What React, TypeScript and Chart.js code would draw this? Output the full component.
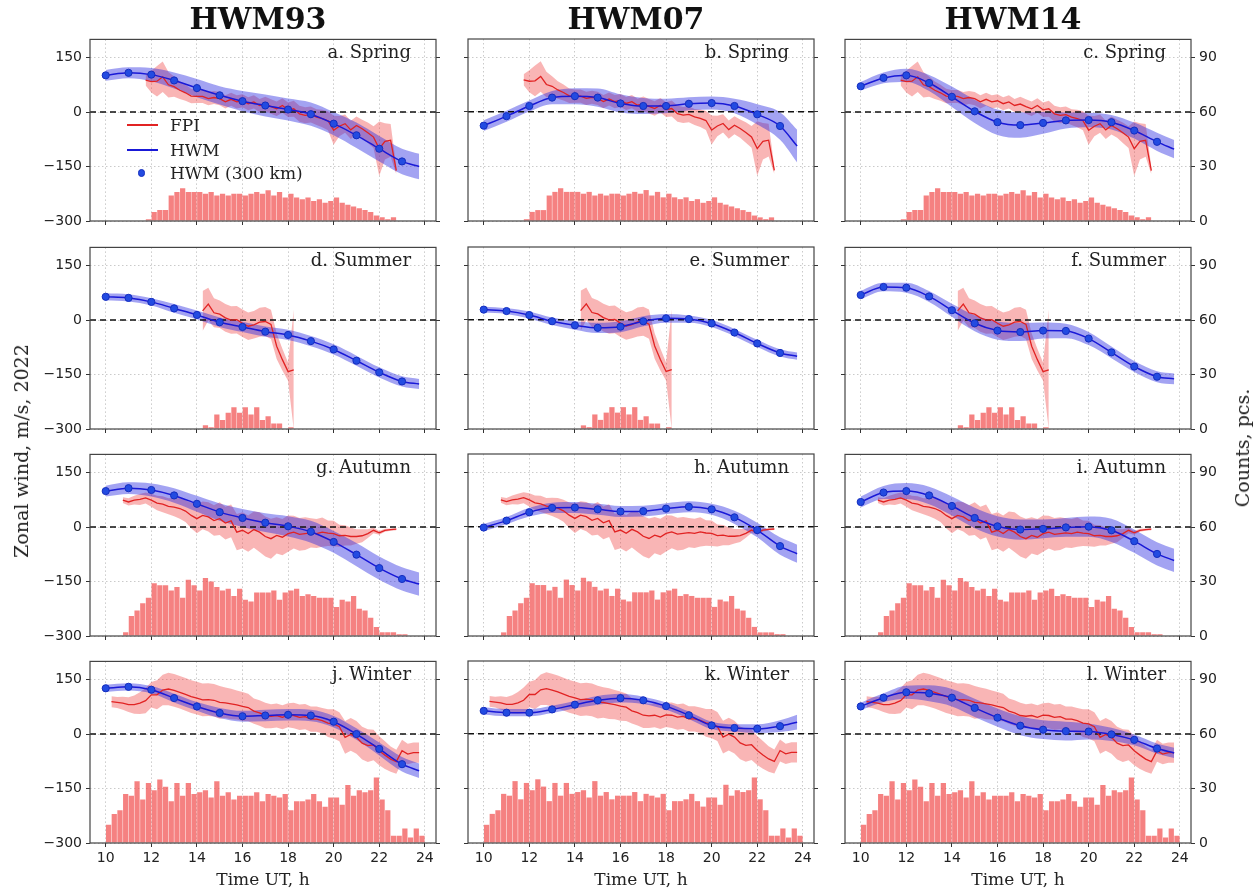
import React, { useEffect, useRef } from 'react';
import { Chart, registerables } from 'chart.js';

Chart.register(...registerables);

// ---------------- data ----------------
const MODELS = ['HWM93', 'HWM07', 'HWM14'];
const SEASONS = ['Spring', 'Summer', 'Autumn', 'Winter'];
const LETTERS = ['a', 'b', 'c', 'd', 'e', 'f', 'g', 'h', 'i', 'j', 'k', 'l'];
const X_TICKS = [10, 12, 14, 16, 18, 20, 22, 24];
const WIND_TICKS = [-300, -150, 0, 150];
const COUNT_TICKS = [0, 30, 60, 90];
const STEP = 0.25; // hours between FPI samples / histogram bins
const HWM_HOURS = [10, 11, 12, 13, 14, 15, 16, 17, 18, 19, 20, 21, 22, 23, 23.75];
const DOT_COUNT = 14; // HWM (300 km) dots at 10..23 h

// FPI zonal wind, 15-min steps (shared by all models of a season)
const fpiStart = [11.75, 14.25, 10.75, 10.25];
const fpiSpring = [88, 84, 85, 97, 75, 70, 60, 53, 44, 43, 43, 37, 40, 37, 28, 35, 28, 31, 23, 28, 18, 22, 15, 9, 18, 6, 9, -5, -9, -7, -14, -18, -24, -50, -39, -32, -49, -37, -46, -57, -69, -101, -81, -78, -161];
const fpiSpringSd = [15, 30, 42, 42, 35, 28, 24, 22, 20, 18, 18, 18, 18, 18, 18, 18, 18, 18, 18, 18, 18, 20, 20, 20, 20, 20, 22, 22, 22, 22, 22, 24, 26, 40, 28, 25, 25, 25, 25, 28, 30, 75, 50, 45, 10];
const fpiSummer = [25, 44, 20, 16, 6, 0, 1, -9, -17, -13, -6, -4, -12, -72, -109, -142, -137];
const fpiSummerSd = [55, 45, 40, 38, 38, 38, 38, 38, 38, 38, 40, 40, 40, 35, 30, 25, 165];
const fpiAutumn = [74, 69, 74, 76, 80, 74, 66, 63, 57, 55, 51, 44, 32, 23, 32, 28, 18, 23, 11, 17, -14, -9, -18, -7, -14, -26, -32, -23, -28, -18, -14, -20, -18, -16, -18, -14, -17, -18, -24, -23, -26, -26, -24, -18, -9, -16, -9, -7, -6];
const fpiAutumnSd = [8, 10, 12, 15, 15, 18, 20, 22, 22, 25, 28, 30, 35, 40, 38, 40, 42, 45, 45, 45, 50, 50, 50, 50, 55, 55, 55, 50, 50, 50, 45, 45, 45, 40, 40, 40, 35, 35, 30, 28, 25, 20, 18, 12, 8, 5, 4, 3, 3];
const fpiWinter = [89, 87, 85, 81, 81, 85, 92, 108, 108, 121, 124, 120, 115, 109, 103, 99, 94, 95, 93, 87, 86, 83, 80, 76, 73, 63, 58, 51, 49, 51, 46, 52, 51, 46, 48, 41, 41, 37, 30, 28, 20, -9, -1, -9, -25, -32, -30, -46, -58, -69, -76, -46, -55, -51, -51];
const fpiWinterSd = [15, 15, 18, 20, 25, 30, 35, 35, 40, 42, 45, 45, 45, 45, 45, 45, 45, 45, 45, 45, 42, 42, 40, 40, 38, 35, 35, 35, 33, 33, 33, 33, 35, 35, 35, 35, 35, 35, 38, 40, 40, 45, 45, 45, 45, 45, 42, 40, 38, 35, 33, 30, 28, 28, 28];

// Observation counts per 15-min bin (bin start hour given)
const countStart = [11.75, 14.25, 10.75, 10.0];
const countsSpring = [1, 5, 6, 6, 14, 16, 18, 16, 16, 16, 15, 16, 14, 15, 14, 15, 15, 14, 15, 16, 15, 17, 14, 16, 13, 15, 13, 12, 13, 11, 12, 10, 11, 13, 10, 9, 8, 7, 6, 5, 3, 2, 1, 2];
const countsSummer = [2, 1, 8, 5, 9, 12, 9, 12, 8, 12, 5, 7, 3, 3, 0, 1];
const countsAutumn = [2, 11, 14, 18, 21, 29, 28, 28, 25, 27, 21, 31, 28, 25, 32, 30, 27, 25, 26, 22, 26, 20, 19, 24, 24, 24, 25, 20, 24, 25, 26, 22, 23, 22, 21, 21, 21, 16, 20, 19, 22, 15, 14, 10, 5, 2, 2, 2, 1, 1];
const countsWinter = [10, 16, 18, 27, 26, 34, 24, 33, 29, 35, 31, 23, 33, 26, 33, 27, 28, 29, 25, 34, 26, 28, 24, 26, 26, 26, 28, 23, 27, 26, 25, 27, 18, 23, 23, 24, 27, 23, 20, 25, 25, 21, 32, 26, 29, 28, 29, 36, 24, 18, 4, 4, 8, 3, 8, 4];

// HWM zonal wind at HWM_HOURS, and its spread (half-width of band)
const hwm93Spring = [101, 108, 103, 87, 66, 46, 30, 18, 7, -6, -32, -64, -101, -136, -150];
const hwm07Spring = [-38, -12, 16, 39, 43, 39, 23, 16, 16, 22, 24, 16, -7, -39, -94];
const hwm14Spring = [71, 94, 101, 80, 42, 2, -28, -36, -30, -23, -22, -28, -51, -82, -102];
const hwm93Summer = [64, 61, 50, 32, 14, -6, -19, -32, -41, -58, -81, -112, -144, -169, -176];
const hwm07Summer = [28, 24, 13, -4, -15, -22, -19, -4, 4, 2, -10, -35, -65, -91, -100];
const hwm14Summer = [69, 91, 89, 65, 27, -9, -29, -33, -29, -30, -51, -89, -128, -156, -162];
const hwm93Autumn = [99, 107, 102, 87, 64, 41, 25, 12, 2, -13, -41, -76, -113, -143, -157];
const hwm07Autumn = [-2, 17, 40, 52, 53, 48, 42, 43, 50, 55, 48, 26, -9, -53, -74];
const hwm14Autumn = [69, 95, 99, 87, 58, 25, 2, -7, -5, -1, 1, -9, -39, -74, -92];
const hwm93Winter = [126, 130, 122, 99, 76, 58, 49, 51, 53, 51, 34, 0, -41, -83, -101];
const hwm07Winter = [63, 58, 58, 67, 80, 92, 98, 92, 76, 51, 23, 16, 14, 21, 32];
const hwm14Winter = [76, 100, 115, 112, 100, 72, 45, 23, 12, 8, 7, -1, -16, -40, -52];

const hwm93SpringSd = [15, 15, 18, 22, 25, 25, 28, 30, 30, 32, 32, 35, 35, 35, 35];
const hwm07SpringSd = [15, 15, 15, 18, 22, 25, 25, 22, 20, 18, 18, 20, 28, 38, 45];
const hwm14SpringSd = [12, 15, 18, 22, 28, 32, 35, 35, 30, 22, 20, 20, 22, 25, 25];
const hwm93SummerSd = [10, 10, 10, 12, 12, 13, 14, 14, 14, 14, 14, 14, 14, 14, 14];
const hwm07SummerSd = [8, 8, 10, 10, 12, 14, 15, 14, 12, 10, 10, 10, 10, 10, 10];
const hwm14SummerSd = [12, 12, 14, 15, 18, 22, 25, 25, 22, 20, 18, 16, 15, 15, 15];
const hwm93AutumnSd = [15, 16, 18, 20, 22, 24, 25, 26, 28, 30, 30, 32, 32, 32, 32];
const hwm07AutumnSd = [10, 10, 12, 14, 15, 15, 15, 15, 15, 15, 15, 18, 20, 24, 25];
const hwm14AutumnSd = [15, 18, 22, 24, 26, 28, 28, 28, 26, 26, 28, 32, 32, 32, 32];
const hwm93WinterSd = [10, 10, 10, 12, 12, 14, 15, 16, 16, 16, 16, 16, 18, 20, 20];
const hwm07WinterSd = [10, 10, 10, 10, 10, 12, 12, 10, 10, 10, 10, 10, 12, 16, 20];
const hwm14WinterSd = [10, 12, 18, 22, 24, 25, 25, 26, 26, 26, 22, 18, 15, 14, 14];

const FPI = [fpiSpring, fpiSummer, fpiAutumn, fpiWinter];
const FPI_SD = [fpiSpringSd, fpiSummerSd, fpiAutumnSd, fpiWinterSd];
const COUNTS = [countsSpring, countsSummer, countsAutumn, countsWinter];
const HWM = [
  [hwm93Spring, hwm07Spring, hwm14Spring],
  [hwm93Summer, hwm07Summer, hwm14Summer],
  [hwm93Autumn, hwm07Autumn, hwm14Autumn],
  [hwm93Winter, hwm07Winter, hwm14Winter],
];
const HWM_SD = [
  [hwm93SpringSd, hwm07SpringSd, hwm14SpringSd],
  [hwm93SummerSd, hwm07SummerSd, hwm14SummerSd],
  [hwm93AutumnSd, hwm07AutumnSd, hwm14AutumnSd],
  [hwm93WinterSd, hwm07WinterSd, hwm14WinterSd],
];

// ---------------- layout ----------------
const X_MIN = 9.31;
const X_MAX = 24.49;
const COL_LEFT = [90, 468, 845];
const ROW_TOP = [39, 247, 454, 661];
const PLOT_W = 346;
const PLOT_H = 182;
const PAD_L = 60;
const PAD_R = 45;
const PAD_T = 12;
const PAD_B = 28;
const CW = PAD_L + PLOT_W + PAD_R;
const CH = PAD_T + PLOT_H + PAD_B;

const SERIF = "'DejaVu Serif', serif";
const SANS = "'DejaVu Sans', sans-serif";

const fmtMinus = (v: number) => (v < 0 ? '\u2212' + Math.abs(v) : String(v));

const framePlugin = {
  id: 'frame',
  afterDraw(chart: any) {
    const { ctx, chartArea: a } = chart;
    ctx.save();
    ctx.strokeStyle = '#444';
    ctx.lineWidth = 1.2;
    ctx.strokeRect(a.left, a.top, a.right - a.left, a.bottom - a.top);
    ctx.restore();
  },
};

function Panel({ row, col }: { row: number; col: number }) {
  const ref = useRef<HTMLCanvasElement | null>(null);

  useEffect(() => {
    const canvas = ref.current;
    if (!canvas) return;
    const fpi = FPI[row];
    const fpiSd = FPI_SD[row];
    const start = fpiStart[row];
    const hv = HWM[row][col];
    const hsd = HWM_SD[row][col];

    const fpiPts = fpi.map((v, i) => ({ x: start + i * STEP, y: v }));
    const fpiLo = fpi.map((v, i) => ({ x: start + i * STEP, y: v - fpiSd[i] }));
    const fpiHi = fpi.map((v, i) => ({ x: start + i * STEP, y: v + fpiSd[i] }));
    const hwmPts = hv.map((v, i) => ({ x: HWM_HOURS[i], y: v }));
    const hwmLo = hv.map((v, i) => ({ x: HWM_HOURS[i], y: v - hsd[i] }));
    const hwmHi = hv.map((v, i) => ({ x: HWM_HOURS[i], y: v + hsd[i] }));
    const bars = COUNTS[row]
      .map((c, i) => ({ x: countStart[row] + i * STEP + STEP / 2, y: c }))
      .filter((p) => p.y > 0);

    const smooth = { cubicInterpolationMode: 'monotone' as const, tension: 0.4 };

    const gridCommon = {
      color: '#bdbdbd',
      lineWidth: 0.8,
      tickColor: '#333',
      tickLength: 4,
      tickWidth: 1,
      tickBorderDash: [],
      offset: false,
    };

    const chart = new Chart(canvas, {
      type: 'line',
      data: {
        datasets: [
          {
            type: 'bar',
            data: bars,
            yAxisID: 'y2',
            backgroundColor: 'rgba(240,70,70,0.68)',
            borderWidth: 0,
            barPercentage: 0.92,
            categoryPercentage: 1,
            order: 10,
          } as any,
          {
            data: fpiLo,
            borderWidth: 0,
            pointRadius: 0,
            fill: false,
            order: 9,
          },
          {
            data: fpiHi,
            borderWidth: 0,
            pointRadius: 0,
            fill: '-1',
            backgroundColor: 'rgba(240,60,60,0.38)',
            order: 9,
          },
          {
            data: hwmLo,
            borderWidth: 0,
            pointRadius: 0,
            fill: false,
            order: 7,
            ...smooth,
          },
          {
            data: hwmHi,
            borderWidth: 0,
            pointRadius: 0,
            fill: '-1',
            backgroundColor: 'rgba(35,35,225,0.42)',
            order: 7,
            ...smooth,
          },
          {
            data: [
              { x: X_MIN, y: 0 },
              { x: X_MAX, y: 0 },
            ],
            borderColor: '#111',
            borderWidth: 1.5,
            borderDash: [6, 4],
            pointRadius: 0,
            fill: false,
            order: 5,
          },
          {
            data: fpiPts,
            borderColor: 'rgb(225,35,35)',
            borderWidth: 1.3,
            pointRadius: 0,
            fill: false,
            order: 3,
          },
          {
            data: hwmPts,
            borderColor: 'rgb(25,25,215)',
            borderWidth: 1.5,
            pointRadius: (ctx: any) => (ctx.dataIndex < DOT_COUNT ? 3.6 : 0),
            pointBackgroundColor: 'rgb(35,75,225)',
            pointBorderColor: 'rgb(20,45,190)',
            pointBorderWidth: 1,
            fill: false,
            order: 1,
            ...smooth,
          },
        ],
      },
      options: {
        responsive: false,
        animation: false,
        devicePixelRatio: 1,
        events: [],
        layout: { padding: { top: PAD_T, left: 0, right: 0, bottom: 0 } },
        plugins: { legend: { display: false }, tooltip: { enabled: false } },
        scales: {
          x: {
            type: 'linear',
            min: X_MIN,
            max: X_MAX,
            offset: false,
            afterBuildTicks: (s: any) => {
              s.ticks = X_TICKS.map((v) => ({ value: v }));
            },
            afterFit: (s: any) => {
              s.height = PAD_B;
            },
            grid: gridCommon,
            border: { display: false, dash: [1.5, 2.5] },
            ticks: {
              display: row === 3,
              font: { family: SANS, size: 14 },
              color: '#222',
              padding: 3,
              maxRotation: 0,
              autoSkip: false,
              callback: (v: any) => String(v),
            },
          },
          y: {
            type: 'linear',
            position: 'left',
            min: -300,
            max: 200,
            offset: false,
            afterBuildTicks: (s: any) => {
              s.ticks = WIND_TICKS.map((v) => ({ value: v }));
            },
            afterFit: (s: any) => {
              s.width = PAD_L;
            },
            grid: gridCommon,
            border: { display: false, dash: [1.5, 2.5] },
            ticks: {
              display: col === 0,
              font: { family: SANS, size: 14 },
              color: '#222',
              padding: 4,
              callback: (v: any) => fmtMinus(Number(v)),
            },
          },
          y2: {
            type: 'linear',
            position: 'right',
            min: 0,
            max: 100,
            offset: false,
            afterBuildTicks: (s: any) => {
              s.ticks = COUNT_TICKS.map((v) => ({ value: v }));
            },
            afterFit: (s: any) => {
              s.width = PAD_R;
            },
            grid: { ...gridCommon, drawOnChartArea: false },
            border: { display: false },
            ticks: {
              display: col === 2,
              font: { family: SANS, size: 14 },
              color: '#222',
              padding: 4,
              callback: (v: any) => String(v),
            },
          },
        },
      } as any,
      plugins: [framePlugin],
    } as any);

    return () => chart.destroy();
  }, [row, col]);

  return (
    <canvas
      ref={ref}
      width={CW}
      height={CH}
      style={{
        position: 'absolute',
        left: COL_LEFT[col] - PAD_L,
        top: ROW_TOP[row] - PAD_T,
        width: CW,
        height: CH,
      }}
    />
  );
}

function Legend() {
  const left = 127;
  const textLeft = 170;
  const rows = [
    { y: 125, label: 'FPI', kind: 'red' },
    { y: 150, label: 'HWM', kind: 'blue' },
    { y: 173, label: 'HWM (300 km)', kind: 'dot' },
  ];
  return (
    <>
      {rows.map((r) => (
        <React.Fragment key={r.label}>
          {r.kind === 'dot' ? (
            <div
              style={{
                position: 'absolute',
                left: 141.7 - 3.6,
                top: r.y - 3.6,
                width: 7.2,
                height: 7.2,
                borderRadius: '50%',
                background: 'rgb(35,75,225)',
                boxSizing: 'border-box',
                border: '1px solid rgb(20,45,190)',
              }}
            />
          ) : (
            <div
              style={{
                position: 'absolute',
                left,
                top: r.y - 0.75,
                width: 31,
                height: 1.5,
                background: r.kind === 'red' ? 'rgb(225,35,35)' : 'rgb(25,25,215)',
              }}
            />
          )}
          <div
            style={{
              position: 'absolute',
              left: textLeft,
              top: r.y - 10,
              fontFamily: SERIF,
              fontSize: 17,
              lineHeight: '20px',
              color: '#222',
              whiteSpace: 'nowrap',
            }}
          >
            {r.label}
          </div>
        </React.Fragment>
      ))}
    </>
  );
}

export default function App() {
  const panels = [];
  for (let r = 0; r < 4; r++) {
    for (let c = 0; c < 3; c++) {
      panels.push(<Panel key={`p${r}${c}`} row={r} col={c} />);
    }
  }
  return (
    <div
      style={{
        position: 'absolute',
        left: 0,
        top: 0,
        width: 1260,
        height: 895,
        background: '#fff',
        overflow: 'hidden',
      }}
    >
      {panels}
      {MODELS.map((m, c) => (
        <div
          key={m}
          style={{
            position: 'absolute',
            left: COL_LEFT[c] - 5,
            width: PLOT_W,
            top: 1,
            textAlign: 'center',
            fontFamily: SERIF,
            fontWeight: 'bold',
            fontSize: 30,
            lineHeight: '36px',
            color: '#111',
          }}
        >
          {m}
        </div>
      ))}
      {SEASONS.map((s, r) =>
        MODELS.map((_, c) => (
          <div
            key={`lab${r}${c}`}
            style={{
              position: 'absolute',
              left: COL_LEFT[c],
              width: PLOT_W - 25,
              top: ROW_TOP[r] + 3,
              textAlign: 'right',
              fontFamily: SERIF,
              fontSize: 18,
              lineHeight: '20px',
              color: '#222',
              whiteSpace: 'nowrap',
            }}
          >
            {`${LETTERS[r * 3 + c]}. ${s}`}
          </div>
        ))
      )}
      {MODELS.map((m, c) => (
        <div
          key={`xl${m}`}
          style={{
            position: 'absolute',
            left: COL_LEFT[c],
            width: PLOT_W,
            top: 869,
            textAlign: 'center',
            fontFamily: SERIF,
            fontSize: 17,
            lineHeight: '20px',
            color: '#222',
          }}
        >
          Time UT, h
        </div>
      ))}
      <div
        style={{
          position: 'absolute',
          left: 21,
          top: 451,
          transform: 'translate(-50%, -50%) rotate(-90deg)',
          fontFamily: SERIF,
          fontSize: 19,
          lineHeight: '22px',
          color: '#222',
          whiteSpace: 'nowrap',
        }}
      >
        Zonal wind, m/s, 2022
      </div>
      <div
        style={{
          position: 'absolute',
          left: 1242,
          top: 448,
          transform: 'translate(-50%, -50%) rotate(-90deg)',
          fontFamily: SERIF,
          fontSize: 19,
          lineHeight: '22px',
          color: '#222',
          whiteSpace: 'nowrap',
        }}
      >
        Counts, pcs.
      </div>
      <Legend />
    </div>
  );
}
